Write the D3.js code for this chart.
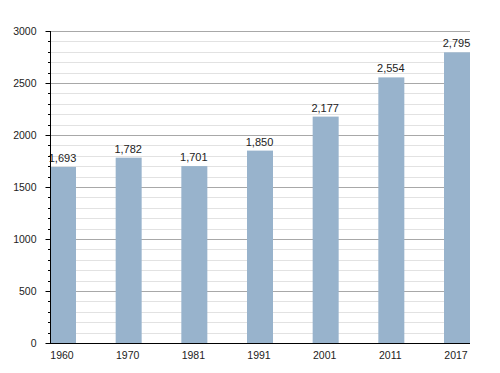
<!DOCTYPE html>
<html>
<head>
<meta charset="utf-8">
<script src="https://cdn.jsdelivr.net/npm/d3@7"></script>
<style>
body{margin:0;background:#fff;}
text{font-family:"Liberation Sans",Arial,sans-serif;font-size:10px;fill:#222;}
</style>
</head>
<body>
<svg></svg>
<script>
var years=["1960","1970","1981","1991","2001","2011","2017"];
var population=[1693,1782,1701,1850,2177,2554,2795];
var majorTicks=[0,500,1000,1500,2000,2500,3000];

var svgWidth=500, svgHeight=373;
var plotLeft=50, plotRight=470, plotTop=31, plotBottom=343;

var svg=d3.select('svg')
            .attr("width",svgWidth)
            .attr("height",svgHeight);

var x=d3.scaleBand().domain(years).range([plotLeft,plotRight]).paddingInner(0.604).paddingOuter(0);
var y=d3.scaleLinear().domain([0,3000]).range([plotBottom,plotTop]);

var minor=d3.range(0,3001,100).filter(function(v){return v%500!==0;});

// minor grid
svg.append("g").selectAll("line").data(minor).enter().append("line")
    .attr("x1",plotLeft).attr("x2",plotRight)
    .attr("y1",function(d){return Math.round(y(d))+0.5;}).attr("y2",function(d){return Math.round(y(d))+0.5;})
    .attr("stroke","#e2e2e2").attr("stroke-width",1);

// major grid
svg.append("g").selectAll("line").data(majorTicks.slice(1)).enter().append("line")
    .attr("x1",plotLeft).attr("x2",plotRight)
    .attr("y1",function(d){return Math.round(y(d))+0.5;}).attr("y2",function(d){return Math.round(y(d))+0.5;})
    .attr("stroke","#a8a8a8").attr("stroke-width",1);

// bars
svg.append("g").selectAll("rect").data(population).enter().append("rect")
    .attr("x",function(d,i){return x(years[i]);})
    .attr("y",function(d){return y(d);})
    .attr("width",x.bandwidth())
    .attr("height",function(d){return plotBottom-y(d);})
    .attr("fill","#98b3cc");

// value labels
var fmt=d3.format(",");
svg.append("g").selectAll("text").data(population).enter().append("text")
    .attr("x",function(d,i){return x(years[i])+x.bandwidth()/2 - 0.5;})
    .attr("y",function(d){return y(d)-5;})
    .attr("text-anchor","middle")
    .style("font-size","11px")
    .text(function(d){return fmt(d);});

// y axis
var yAxis=d3.axisLeft(y).tickValues(majorTicks).tickSize(5).tickPadding(9).tickFormat(d3.format("d"));
var ya=svg.append("g").attr("transform","translate("+(plotLeft+0.5)+",0)").call(yAxis);
ya.select(".domain").remove();
ya.selectAll("text").style("font-size","10.5px").attr("fill","#222");
ya.selectAll("line").attr("stroke","#000");

svg.append("g").selectAll("line").data(minor).enter().append("line")
    .attr("x1",plotLeft-2).attr("x2",plotLeft)
    .attr("y1",function(d){return Math.round(y(d))+0.5;}).attr("y2",function(d){return Math.round(y(d))+0.5;})
    .attr("stroke","#000");

// axis lines
svg.append("line").attr("x1",plotLeft+0.5).attr("x2",plotLeft+0.5).attr("y1",plotTop).attr("y2",plotBottom+1).attr("stroke","#000");
svg.append("line").attr("x1",plotLeft).attr("x2",plotRight).attr("y1",plotBottom+0.5).attr("y2",plotBottom+0.5).attr("stroke","#000");

// x labels
var xAxis=d3.axisBottom(x).tickSize(0).tickPadding(9);
var xa=svg.append("g").attr("transform","translate(-1,"+plotBottom+")").call(xAxis);
xa.select(".domain").remove();
xa.selectAll("text").style("font-size","10.5px").attr("fill","#222");
</script>
</body>
</html>
